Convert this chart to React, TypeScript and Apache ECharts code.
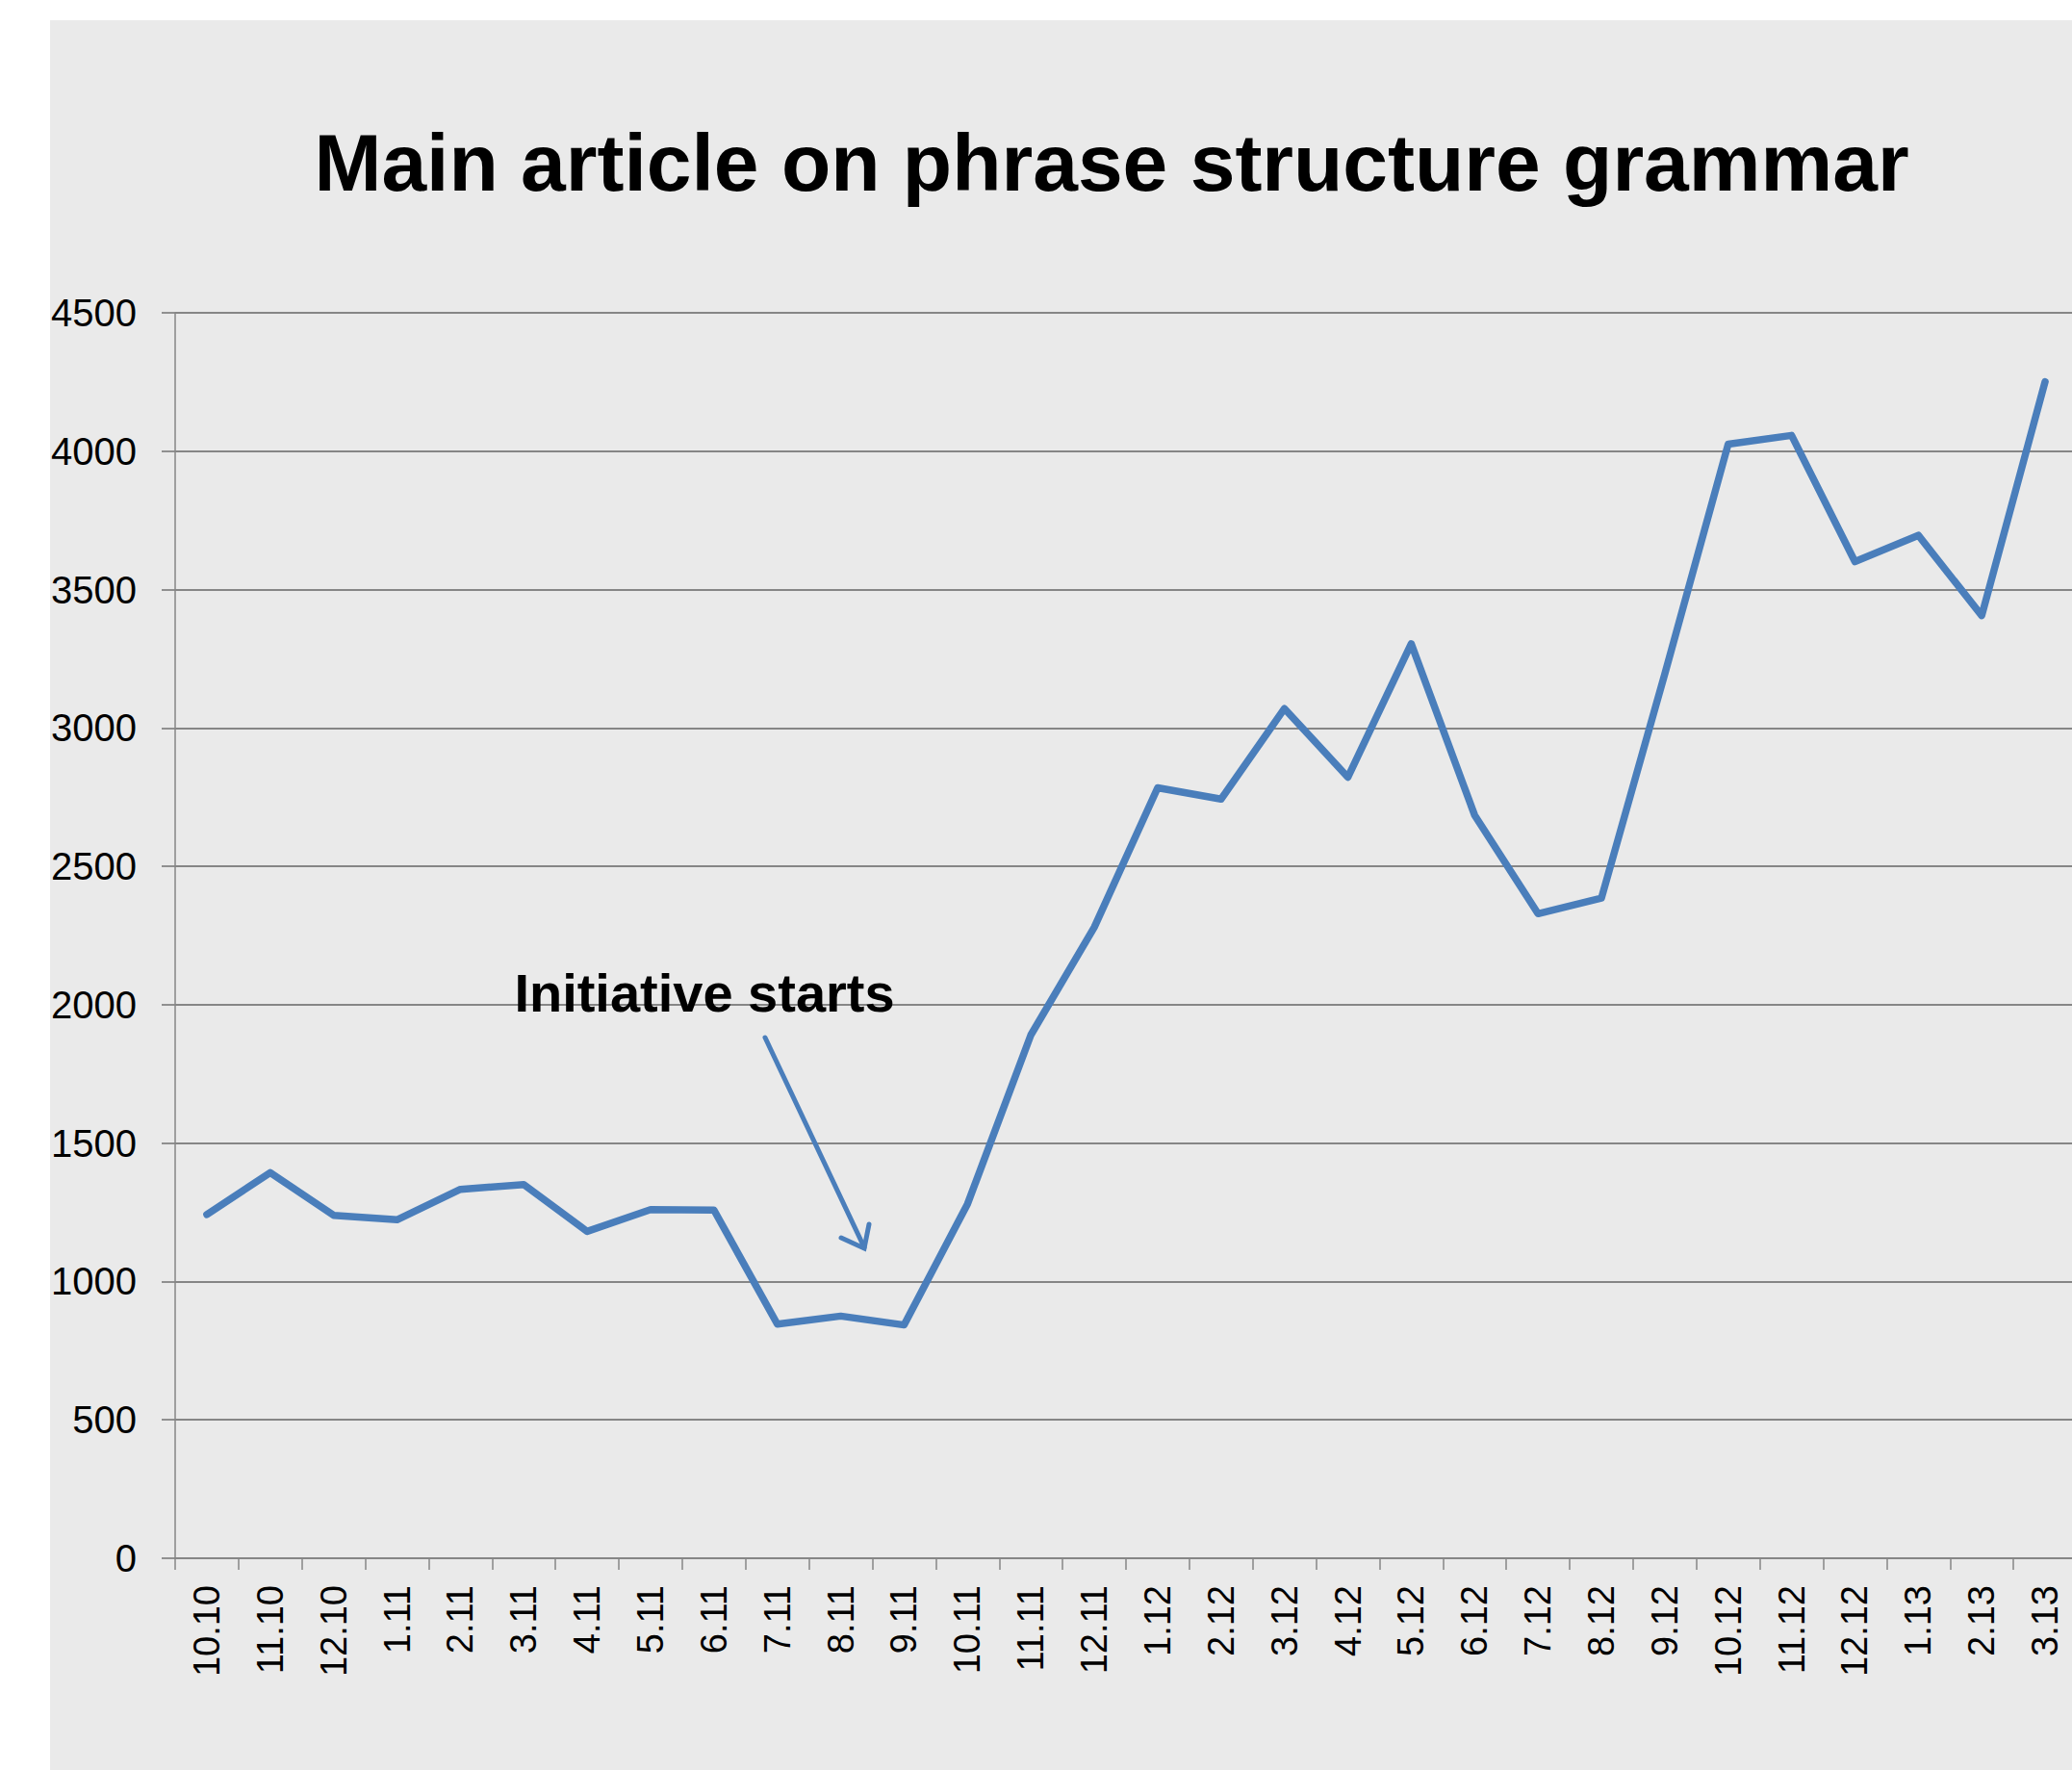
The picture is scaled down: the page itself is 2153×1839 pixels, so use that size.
import React, { useEffect, useRef } from "react";
import * as echarts from "echarts";

const categories = [
  "10.10", "11.10", "12.10", "1.11", "2.11", "3.11", "4.11", "5.11", "6.11", "7.11",
  "8.11", "9.11", "10.11", "11.11", "12.11", "1.12", "2.12", "3.12", "4.12", "5.12",
  "6.12", "7.12", "8.12", "9.12", "10.12", "11.12", "12.12", "1.13", "2.13", "3.13",
];
const pageViews = [
  1242, 1393, 1239, 1223, 1333, 1350, 1181, 1260, 1258, 846,
  875, 843, 1280, 1891, 2280, 2784, 2743, 3070, 2822, 3304,
  2685, 2329, 2385, 3195, 4025, 4057, 3601, 3696, 3406, 4251,
];
const yMin = 0;
const yMax = 4500;
const yStep = 500;
const titleText = "Main article on phrase structure grammar";
const annotationText = "Initiative starts";

const LINE_BLUE = "#4a7ebb";
const GRID_GREY = "#868686";

export default function App() {
  const ref = useRef<HTMLDivElement>(null);

  useEffect(() => {
    if (!ref.current) return;
    const chart = echarts.init(ref.current, undefined, { renderer: "svg" });
    chart.setOption({
      animation: false,
      backgroundColor: "transparent",
      grid: { left: 182, top: 325, right: 2, bottom: 220, containLabel: false },
      xAxis: {
        type: "category",
        data: categories,
        boundaryGap: true,
        axisLine: { show: true, lineStyle: { color: GRID_GREY, width: 2 } },
        axisTick: { show: true, length: 12, alignWithLabel: false, lineStyle: { color: GRID_GREY, width: 1.5 } },
        axisLabel: {
          rotate: 90,
          interval: 0,
          margin: 28,
          color: "#000",
          fontFamily: "Liberation Sans",
          fontSize: 38,
        },
        splitLine: { show: false },
      },
      yAxis: {
        type: "value",
        min: yMin,
        max: yMax,
        interval: yStep,
        axisLine: { show: true, lineStyle: { color: GRID_GREY, width: 1.5 } },
        axisTick: { show: true, length: 14, lineStyle: { color: GRID_GREY, width: 1.8 } },
        axisLabel: {
          margin: 40,
          color: "#000",
          fontFamily: "Liberation Sans",
          fontSize: 40,
          formatter: (v: number) => String(v),
        },
        splitLine: { show: true, lineStyle: { color: GRID_GREY, width: 1.8 } },
      },
      series: [
        {
          type: "line",
          data: pageViews,
          symbol: "none",
          lineStyle: { color: LINE_BLUE, width: 7.5, cap: "round", join: "round" },
          z: 5,
        },
      ],
      graphic: [
        {
          type: "text",
          x: 1155,
          y: 169,
          z: 100,
          style: {
            text: titleText,
            fill: "#000",
            font: "bold 84px 'Liberation Sans'",
            textAlign: "center",
            textVerticalAlign: "middle",
          },
        },
        {
          type: "text",
          x: 732,
          y: 1031,
          z: 100,
          style: {
            text: annotationText,
            fill: "#000",
            font: "bold 56px 'Liberation Sans'",
            textAlign: "center",
            textVerticalAlign: "middle",
          },
        },
        {
          type: "line",
          z: 100,
          shape: { x1: 795, y1: 1078, x2: 898, y2: 1296 },
          style: { stroke: LINE_BLUE, lineWidth: 5, lineCap: "round" },
        },
        {
          type: "polyline",
          z: 100,
          shape: { points: [[874, 1286], [898, 1297], [903, 1272]] },
          style: { stroke: LINE_BLUE, lineWidth: 5, fill: "none", lineCap: "round", lineJoin: "miter" },
        },
      ],
    });
    return () => chart.dispose();
  }, []);

  return (
    <div style={{ position: "absolute", left: 0, top: 0, width: 2153, height: 1839, overflow: "hidden", background: "#ffffff" }}>
      <div style={{ position: "absolute", left: 52, top: 21, right: 0, bottom: 0, background: "#eaeaea" }} />
      <div ref={ref} style={{ position: "absolute", left: 0, top: 0, width: 2160, height: 1839 }} />
    </div>
  );
}
